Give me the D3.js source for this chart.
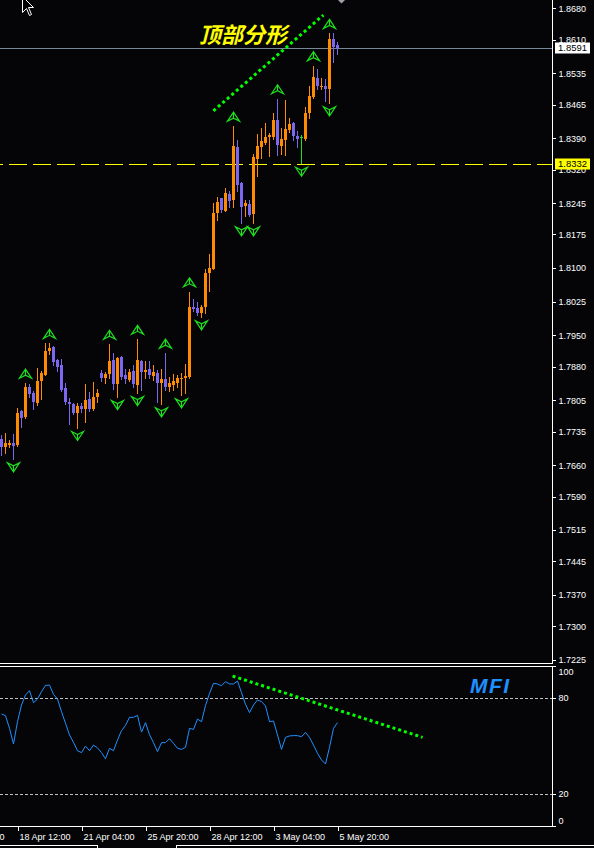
<!DOCTYPE html>
<html>
<head>
<meta charset="utf-8">
<script src="https://cdn.jsdelivr.net/npm/d3@7"></script>
<style>
  html, body { margin: 0; padding: 0; background: #050508; }
  svg { display: block; }
</style>
</head>
<body>
<script>
// H4 bars, oldest first
var opens = [1.7718,1.7700,1.7704,1.7709,1.7705,1.7781,1.7768,1.7834,1.7820,1.7799,
  1.7848,1.7861,1.7915,1.7924,1.7894,1.7884,1.7832,1.7802,1.7797,1.7777,
  1.7792,1.7785,1.7808,1.7785,1.7813,1.7865,1.7854,1.7864,1.7895,1.7841,
  1.7901,1.7861,1.7850,1.7870,1.7839,1.7893,1.7867,1.7874,1.7859,1.7865,
  1.7844,1.7852,1.7835,1.7839,1.7844,1.7852,1.7854,1.7856,1.8014,1.8010,
  1.8000,1.8012,1.8090,1.8099,1.8222,1.8256,1.8228,1.8265,1.8252,1.8371,
  1.8291,1.8239,1.8243,1.8221,1.8344,1.8370,1.8380,1.8393,1.8392,1.8431,
  1.8373,1.8386,1.8408,1.8425,1.8395,1.8392,1.8388,1.8447,1.8483,1.8525,
  1.8504,1.8507,1.8500,1.8611,1.8597];
var highs = [1.7727,1.7731,1.7716,1.7730,1.7788,1.7783,1.7843,1.7841,1.7826,1.7876,
  1.7870,1.7932,1.7932,1.7926,1.7896,1.7896,1.7843,1.7809,1.7798,1.7798,
  1.7798,1.7841,1.7823,1.7846,1.7830,1.7872,1.7869,1.7930,1.7910,1.7902,
  1.7904,1.7874,1.7874,1.7884,1.7941,1.7895,1.7893,1.7893,1.7884,1.7872,
  1.7874,1.7910,1.7856,1.7864,1.7861,1.7866,1.7886,1.8047,1.8031,1.8025,
  1.8018,1.8098,1.8131,1.8246,1.8259,1.8257,1.8278,1.8272,1.8417,1.8386,
  1.8293,1.8252,1.8252,1.8355,1.8399,1.8413,1.8425,1.8401,1.8447,1.8478,
  1.8412,1.8475,1.8434,1.8427,1.8407,1.8397,1.8460,1.8507,1.8552,1.8544,
  1.8524,1.8522,1.8624,1.8624,1.8604];
var lows = [1.7683,1.7688,1.7701,1.7674,1.7703,1.7746,1.7766,1.7813,1.7785,1.7794,
  1.7808,1.7861,1.7908,1.7884,1.7871,1.7826,1.7796,1.7753,1.7775,1.7744,
  1.7778,1.7757,1.7781,1.7783,1.7802,1.7849,1.7844,1.7855,1.7830,1.7813,
  1.7852,1.7844,1.7849,1.7834,1.7822,1.7828,1.7854,1.7854,1.7850,1.7802,
  1.7797,1.7828,1.7826,1.7828,1.7834,1.7817,1.7822,1.7854,1.8005,1.7995,
  1.7991,1.8000,1.8049,1.8097,1.8207,1.8226,1.8228,1.8236,1.8237,1.8271,
  1.8201,1.8216,1.8217,1.8201,1.8306,1.8346,1.8377,1.8351,1.8388,1.8352,
  1.8354,1.8352,1.8403,1.8386,1.8371,1.8334,1.8386,1.8434,1.8479,1.8499,
  1.8499,1.8474,1.8469,1.8561,1.8578];
var closes = [1.7700,1.7709,1.7710,1.7703,1.7776,1.7766,1.7834,1.7819,1.7802,1.7848,
  1.7865,1.7915,1.7921,1.7891,1.7880,1.7828,1.7802,1.7797,1.7777,1.7792,
  1.7785,1.7806,1.7785,1.7813,1.7820,1.7855,1.7864,1.7893,1.7841,1.7900,
  1.7857,1.7852,1.7869,1.7841,1.7895,1.7867,1.7872,1.7861,1.7869,1.7843,
  1.7852,1.7835,1.7844,1.7849,1.7854,1.7855,1.7859,1.8013,1.8008,1.7999,
  1.8014,1.8088,1.8101,1.8224,1.8248,1.8230,1.8268,1.8250,1.8373,1.8286,
  1.8237,1.8246,1.8219,1.8349,1.8373,1.8384,1.8393,1.8397,1.8431,1.8375,
  1.8388,1.8411,1.8422,1.8395,1.8389,1.8392,1.8447,1.8484,1.8526,1.8507,
  1.8507,1.8499,1.8611,1.8593,1.8591];

// money flow index, one value per bar
var mfi = [69.9,68.8,60.9,51.2,65.1,75.5,81.7,84.4,76.9,79.2,
  83.8,87.7,87.9,82.1,79.2,71.3,64.1,56.8,52.2,47.0,
  45.8,49.9,47.0,50.5,48.7,45.8,42.0,48.5,47.0,53.7,
  59.5,62.8,67.8,67.8,69.0,58.6,64.5,57.0,52.0,46.4,
  52.0,52.0,54.5,51.6,48.5,47.8,49.1,60.9,60.3,66.7,
  65.1,75.1,82.7,89.0,88.6,87.5,90.0,88.6,88.6,90.4,
  83.2,75.9,70.7,75.5,78.6,77.6,74.9,65.1,65.5,56.8,
  47.8,55.3,56.2,56.4,56.4,55.7,58.4,55.3,50.5,45.4,
  41.2,38.7,49.1,60.9,64.5];

var priceTicks = [1.8680,1.8610,1.8535,1.8465,1.8390,1.8320,1.8245,1.8175,1.8100,1.8025,
  1.7950,1.7880,1.7805,1.7735,1.7660,1.7590,1.7515,1.7445,1.7370,1.7300,1.7225];
var mfiTicks = [100, 80, 20, 0];
var mfiLevels = [80, 20];
var timeIdx = [-12.5, 4, 20, 36, 52, 68, 84];
var timeLabels = ["16 Apr 20:00","18 Apr 12:00","21 Apr 04:00","25 Apr 20:00","28 Apr 12:00","3 May 04:00","5 May 20:00"];

var fractalUp = [6, 12, 27, 34, 41, 47, 58, 69, 78, 82];
var fractalDown = [3, 19, 29, 34, 40, 45, 50, 60, 63, 75, 82];

var levelPrice = 1.8332;                 // yellow dashed level
var priceTrend = [[53.1, 1.8451], [80.6, 1.8665]];  // [bar, price]
var mfiTrend = [[57.9, 93.5], [105.4, 55.3]];       // [bar, mfi]

var W = 594, H = 848,
    axisX = 552,
    mainBottom = 663,
    subTop = 666, subBottom = 826,
    font = "'Liberation Sans', Arial, sans-serif",
    bullColor = "#ff8c00", bearColor = "#7b68ee", dojiColor = "#1ee01e";

var x = d3.scaleLinear().domain([0, 84]).range([1, 337]);
var y = d3.scaleLinear().domain([1.7225, 1.8680]).range([660, 8.3]);
var ym = d3.scaleLinear().domain([0, 100]).range([826.1, 665.65]);

var svg = d3.select("body").append("svg").attr("width", W).attr("height", H);
svg.append("rect").attr("width", W).attr("height", H).attr("fill", "#050508");

var defs = svg.append("defs");
defs.append("clipPath").attr("id", "clipMain")
  .append("rect").attr("x", 0).attr("y", 0).attr("width", axisX).attr("height", mainBottom);
defs.append("clipPath").attr("id", "clipSub")
  .append("rect").attr("x", 0).attr("y", subTop).attr("width", axisX).attr("height", subBottom - subTop);

var main = svg.append("g").attr("clip-path", "url(#clipMain)");

// yellow dashed level
main.append("line")
  .attr("x1", 0).attr("x2", axisX)
  .attr("y1", Math.round(y(levelPrice)) + 0.5).attr("y2", Math.round(y(levelPrice)) + 0.5)
  .attr("stroke", "#ffff00").attr("stroke-dasharray", "18,6").attr("stroke-dashoffset", 15);

// last price line
var lastY = Math.round(y(closes[closes.length - 1])) + 0.5;
main.append("line")
  .attr("x1", 0).attr("x2", axisX).attr("y1", lastY).attr("y2", lastY)
  .attr("stroke", "#778899");

// candles
var bars = d3.range(opens.length).map(function (i) {
  return {i: i, o: opens[i], h: highs[i], l: lows[i], c: closes[i]};
});
function barColor(d) {
  if (d.c > d.o) return bullColor;
  if (d.c < d.o) return bearColor;
  return dojiColor;
}
var cg = main.append("g").attr("shape-rendering", "crispEdges");
cg.selectAll(".wick").data(bars).enter().append("rect")
  .attr("x", function (d) { return Math.round(x(d.i)); })
  .attr("width", 1)
  .attr("y", function (d) { return Math.round(y(d.h)); })
  .attr("height", function (d) { return Math.max(1, Math.round(y(d.l)) - Math.round(y(d.h)) + 1); })
  .attr("fill", barColor);
cg.selectAll(".body").data(bars).enter().append("rect")
  .attr("x", function (d) { return Math.round(x(d.i)) - 1; })
  .attr("width", 3)
  .attr("y", function (d) { return Math.round(y(Math.max(d.o, d.c))); })
  .attr("height", function (d) { return Math.max(1, Math.round(y(Math.min(d.o, d.c))) - Math.round(y(Math.max(d.o, d.c)))); })
  .attr("fill", barColor);

// fractal arrows
var upGlyph = "M-6,4.5 L0,-4.5 L6,4.5 L0,1.5 Z M0,-4.5 L0,1.5";
var downGlyph = "M-6,-4.5 L0,4.5 L6,-4.5 L0,-1.5 Z M0,4.5 L0,-1.5";
main.selectAll(".fup").data(fractalUp).enter().append("path")
  .attr("d", upGlyph)
  .attr("transform", function (i) { return "translate(" + (x(i) + 0.5) + "," + (y(highs[i]) - 9.5) + ")"; })
  .attr("fill", "none").attr("stroke", dojiColor).attr("stroke-width", 1.2);
main.selectAll(".fdn").data(fractalDown).enter().append("path")
  .attr("d", downGlyph)
  .attr("transform", function (i) { return "translate(" + (x(i) + 0.5) + "," + (y(lows[i]) + 8.5) + ")"; })
  .attr("fill", "none").attr("stroke", dojiColor).attr("stroke-width", 1.2);

// dotted trend line over the highs
main.append("line")
  .attr("x1", x(priceTrend[0][0])).attr("y1", y(priceTrend[0][1]))
  .attr("x2", x(priceTrend[1][0])).attr("y2", y(priceTrend[1][1]))
  .attr("stroke", "#00ff00").attr("stroke-width", 3).attr("stroke-dasharray", "3,3");

main.append("text")
  .attr("x", 199).attr("y", 43)
  .attr("fill", "#ffff00")
  .attr("font-family", "'Noto Sans CJK SC', sans-serif")
  .attr("font-size", 22).attr("font-weight", "bold").attr("font-style", "italic")
  .text("顶部分形");

// MFI window
var sub = svg.append("g").attr("clip-path", "url(#clipSub)");
sub.selectAll(".lvl").data(mfiLevels).enter().append("line")
  .attr("x1", 0).attr("x2", axisX)
  .attr("y1", function (d) { return Math.round(ym(d)) + 0.5; })
  .attr("y2", function (d) { return Math.round(ym(d)) + 0.5; })
  .attr("stroke", "#c0c0c0").attr("stroke-dasharray", "3,2");
sub.append("path")
  .datum(mfi)
  .attr("d", d3.line().x(function (d, i) { return x(i) + 0.5; }).y(function (d) { return ym(d); }))
  .attr("fill", "none").attr("stroke", "#1e90ff").attr("stroke-width", 1);
sub.append("line")
  .attr("x1", x(mfiTrend[0][0])).attr("y1", ym(mfiTrend[0][1]))
  .attr("x2", x(mfiTrend[1][0])).attr("y2", ym(mfiTrend[1][1]))
  .attr("stroke", "#00ff00").attr("stroke-width", 3).attr("stroke-dasharray", "3,3");
sub.append("text")
  .attr("x", 470).attr("y", 692.5)
  .attr("fill", "#1e90ff")
  .attr("font-family", font).attr("font-size", 21).attr("font-weight", "bold").attr("font-style", "italic")
  .attr("letter-spacing", 1.5)
  .text("MFI");

// frames
var frame = svg.append("g").attr("stroke", "#ffffff").attr("fill", "none").attr("shape-rendering", "crispEdges");
frame.append("line").attr("x1", 0).attr("x2", axisX).attr("y1", mainBottom + 0.5).attr("y2", mainBottom + 0.5);
frame.append("line").attr("x1", 0).attr("x2", axisX).attr("y1", subTop + 0.5).attr("y2", subTop + 0.5);
frame.append("line").attr("x1", 0).attr("x2", axisX).attr("y1", subBottom + 0.5).attr("y2", subBottom + 0.5);

// price axis
var yAxis = svg.append("g")
  .attr("transform", "translate(" + (axisX + 0.5) + ",0)")
  .call(d3.axisRight(y).tickValues(priceTicks).tickSize(3).tickPadding(3)
    .tickFormat(d3.format(".4f")));
yAxis.select(".domain").attr("d", "M0,0V" + (mainBottom + 1));

// MFI axis
var mAxis = svg.append("g")
  .attr("transform", "translate(" + (axisX + 0.5) + ",0)")
  .call(d3.axisRight(ym).tickValues(mfiTicks).tickSize(3).tickPadding(3));
mAxis.select(".domain").attr("d", "M0," + subTop + "V" + (subBottom + 1));
mAxis.selectAll(".tick text")
  .attr("dy", function (d) { return d === 100 ? "0.95em" : (d === 0 ? "-0.3em" : "0.32em"); });

// time axis
var xAxis = svg.append("g")
  .attr("transform", "translate(0," + (subBottom + 0.5) + ")")
  .call(d3.axisBottom(x).tickValues(timeIdx).tickSize(4).tickPadding(3)
    .tickFormat(function (d, i) { return timeLabels[i]; }));
xAxis.select(".domain").remove();
xAxis.selectAll(".tick line").attr("transform", "translate(0.5,0)");
xAxis.selectAll(".tick text").attr("text-anchor", "start").attr("x", 2);

[yAxis, mAxis, xAxis].forEach(function (g) {
  g.selectAll("path, line").attr("stroke", "#ffffff").attr("shape-rendering", "crispEdges");
  g.selectAll("text").attr("fill", "#ffffff").attr("font-family", font).attr("font-size", 9);
});

// price tags on the axis
function priceTag(v, bg) {
  var yy = Math.round(y(v));
  svg.append("rect").attr("x", 555).attr("y", yy - 5.5).attr("width", 35).attr("height", 11)
    .attr("fill", bg);
  svg.append("text").attr("x", 558).attr("y", yy).attr("dy", "0.34em")
    .attr("fill", "#000000").attr("font-family", font).attr("font-size", 9.5)
    .text(d3.format(".4f")(v));
}
priceTag(closes[closes.length - 1], "#ffffff");
priceTag(levelPrice, "#ffff00");

// shift marker and mouse pointer
svg.append("path").attr("d", "M338,0 L345,0 L341.5,3.5 Z").attr("fill", "#a0a0a8");
svg.append("path")
  .attr("d", "M0,0 L0,16 L4,12 L7,19 L9,18 L6,11 L11,11 Z")
  .attr("transform", "translate(22.5,-3.5)")
  .attr("fill", "#000000").attr("stroke", "#ffffff").attr("stroke-width", 1);

// tab strip at the bottom
var tabs = svg.append("g").attr("stroke", "#ffffff").attr("fill", "none").attr("shape-rendering", "crispEdges");
tabs.append("path").attr("d", "M0,845.5 H97.5 V848");
tabs.append("path").attr("d", "M176.5,848 V845.5 H594");
</script>
</body>
</html>
